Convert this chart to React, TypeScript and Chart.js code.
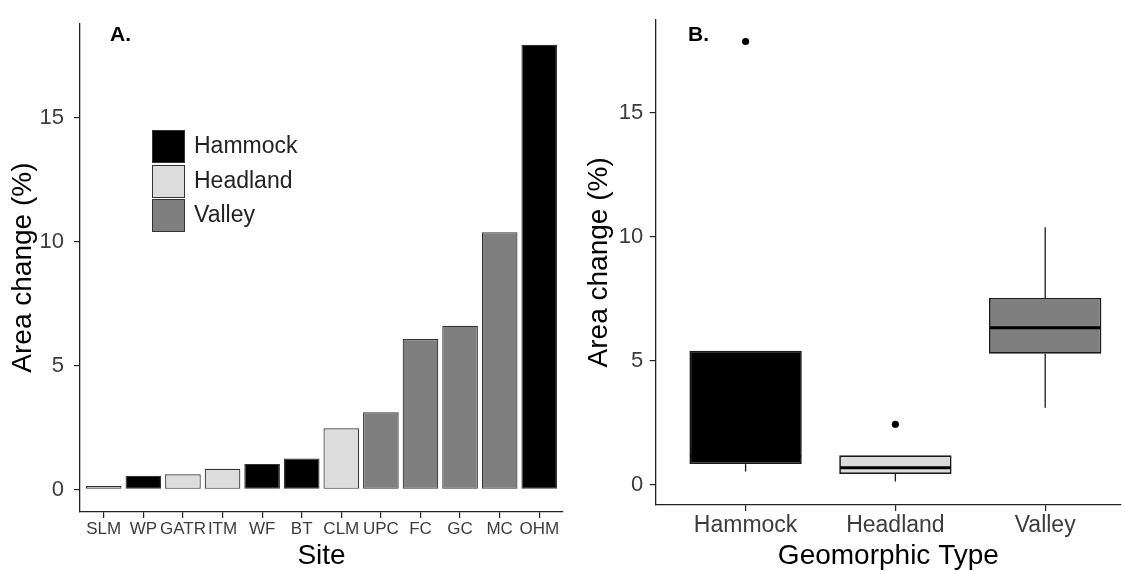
import React, { useEffect, useRef } from "react";
import { Chart, registerables } from "chart.js";

Chart.register(...registerables);

// ---------- Data ----------
const sites = ["SLM", "WP", "GATR", "ITM", "WF", "BT", "CLM", "UPC", "FC", "GC", "MC", "OHM"];
const siteTypes = ["Headland", "Hammock", "Headland", "Headland", "Hammock", "Hammock", "Headland", "Valley", "Valley", "Valley", "Valley", "Hammock"];
const areaChange = [0.14, 0.55, 0.61, 0.83, 1.03, 1.25, 2.47, 3.11, 6.07, 6.6, 10.38, 17.94];
const yTicks = [0, 5, 10, 15];

const geoTypes = ["Hammock", "Headland", "Valley"];
const boxLow = [0.52, 0.12, 3.1];
const boxQ1 = [0.82, 0.42, 5.28];
const boxMedian = [1.15, 0.67, 6.32];
const boxQ3 = [5.4, 1.18, 7.53];
const boxHigh = [1.26, 0.83, 10.38];
const outlierGroup = ["Hammock", "Headland"];
const outlierValue = [17.88, 2.43];

const typeColors: Record<string, string> = {
  Hammock: "#000000",
  Headland: "#DCDCDC",
  Valley: "#7F7F7F",
};

const FONT = "'Liberation Sans', Arial, Helvetica, sans-serif";
const AXIS_COLOR = "#222222";
const TICK_TEXT = "#3C3C3C";

function axisCommon() {
  return {
    grid: {
      display: true,
      drawOnChartArea: false,
      drawTicks: true,
      tickLength: 6,
      color: AXIS_COLOR,
      lineWidth: 1.2,
      offset: false,
    },
    border: { display: true, color: AXIS_COLOR, width: 1.3 },
  };
}

const boxPlugin = {
  id: "boxWhiskers",
  beforeDatasetsDraw(chart: any) {
    const { ctx } = chart;
    const x = chart.scales.x;
    const y = chart.scales.y;
    ctx.save();
    ctx.strokeStyle = "#1a1a1a";
    ctx.lineWidth = 1.3;
    geoTypes.forEach((_g, i) => {
      const px = x.getPixelForValue(i + 1);
      if (boxHigh[i] > boxQ3[i]) {
        ctx.beginPath();
        ctx.moveTo(px, y.getPixelForValue(boxQ3[i]));
        ctx.lineTo(px, y.getPixelForValue(boxHigh[i]));
        ctx.stroke();
      }
      if (boxLow[i] < boxQ1[i]) {
        ctx.beginPath();
        ctx.moveTo(px, y.getPixelForValue(boxQ1[i]));
        ctx.lineTo(px, y.getPixelForValue(boxLow[i]));
        ctx.stroke();
      }
    });
    ctx.restore();
  },
  afterDatasetsDraw(chart: any) {
    const { ctx } = chart;
    const y = chart.scales.y;
    const meta = chart.getDatasetMeta(0);
    ctx.save();
    ctx.strokeStyle = "#000";
    ctx.lineWidth = 3;
    geoTypes.forEach((_g, i) => {
      const el = meta.data[i];
      if (!el) return;
      const half = el.width / 2;
      const py = y.getPixelForValue(boxMedian[i]);
      ctx.beginPath();
      ctx.moveTo(el.x - half + 1, py);
      ctx.lineTo(el.x + half - 1, py);
      ctx.stroke();
    });
    ctx.restore();
  },
};

export default function App() {
  const refA = useRef<HTMLCanvasElement | null>(null);
  const refB = useRef<HTMLCanvasElement | null>(null);

  useEffect(() => {
    const chartA = new Chart(refA.current as HTMLCanvasElement, {
      type: "bar",
      data: {
        datasets: [
          {
            data: sites.map((_s, i) => ({ x: i, y: areaChange[i] })) as any,
            backgroundColor: siteTypes.map((t) => typeColors[t]),
            borderColor: "#333333",
            borderWidth: 1.2,
            borderSkipped: false,
            barPercentage: 0.9,
            categoryPercentage: 1,
          },
        ],
      },
      options: {
        responsive: false,
        animation: false,
        devicePixelRatio: 1,
        events: [],
        layout: { padding: { top: 15, right: 7, left: 0, bottom: 0 } },
        plugins: { legend: { display: false }, tooltip: { enabled: false } },
        scales: {
          x: {
            type: "linear",
            min: -0.6,
            max: 11.6,
            offset: false,
            ...axisCommon(),
            afterBuildTicks: (s: any) => {
              s.ticks = sites.map((_x, i) => ({ value: i }));
            },
            afterFit: (s: any) => {
              s.height = 59;
            },
            ticks: {
              autoSkip: false,
              maxRotation: 0,
              minRotation: 0,
              padding: 1,
              color: TICK_TEXT,
              font: { family: FONT, size: 17 },
              callback: (v: any) => sites[Math.round(Number(v))] ?? "",
            },
            title: {
              display: true,
              text: "Site",
              color: "#000",
              font: { family: FONT, size: 28 },
              padding: { top: 0, bottom: -2 },
            },
          },
          y: {
            type: "linear",
            min: -0.91,
            max: 18.81,
            ...axisCommon(),
            afterBuildTicks: (s: any) => {
              s.ticks = yTicks.map((v) => ({ value: v }));
            },
            afterFit: (s: any) => {
              s.width = 80;
            },
            ticks: {
              padding: 10,
              color: TICK_TEXT,
              font: { family: FONT, size: 22 },
            },
            title: {
              display: true,
              text: "Area change (%)",
              color: "#000",
              font: { family: FONT, size: 28 },
              padding: { top: 6.5, bottom: 0 },
            },
          },
        },
      } as any,
    });

    const chartB = new Chart(refB.current as HTMLCanvasElement, {
      type: "bar",
      data: {
        datasets: [
          {
            type: "bar",
            data: geoTypes.map((_g, i) => ({ x: i + 1, y: [boxQ1[i], boxQ3[i]] })) as any,
            backgroundColor: geoTypes.map((g) => typeColors[g]),
            borderColor: "#1a1a1a",
            borderWidth: 1.7,
            borderSkipped: false,
            barPercentage: 0.75,
            categoryPercentage: 1,
          } as any,
          {
            type: "scatter",
            data: outlierGroup.map((g, i) => ({ x: geoTypes.indexOf(g) + 1, y: outlierValue[i] })),
            pointRadius: 3.6,
            pointBackgroundColor: "#000",
            pointBorderWidth: 0,
            pointBorderColor: "#000",
          } as any,
        ],
      },
      options: {
        responsive: false,
        animation: false,
        devicePixelRatio: 1,
        events: [],
        layout: { padding: { top: 15, right: 0, left: 0, bottom: 0 } },
        plugins: { legend: { display: false }, tooltip: { enabled: false } },
        scales: {
          x: {
            type: "linear",
            min: 0.4,
            max: 3.506,
            offset: false,
            ...axisCommon(),
            afterBuildTicks: (s: any) => {
              s.ticks = geoTypes.map((_g, i) => ({ value: i + 1 }));
            },
            afterFit: (s: any) => {
              s.height = 66;
            },
            ticks: {
              autoSkip: false,
              maxRotation: 0,
              minRotation: 0,
              padding: 1,
              color: TICK_TEXT,
              font: { family: FONT, size: 23 },
              callback: (v: any) => geoTypes[Math.round(Number(v)) - 1] ?? "",
            },
            title: {
              display: true,
              text: "Geomorphic Type",
              color: "#000",
              font: { family: FONT, size: 28 },
              padding: { top: 0, bottom: -2 },
            },
          },
          y: {
            type: "linear",
            min: -0.83,
            max: 18.76,
            ...axisCommon(),
            afterBuildTicks: (s: any) => {
              s.ticks = yTicks.map((v) => ({ value: v }));
            },
            afterFit: (s: any) => {
              s.width = 85.7;
            },
            ticks: {
              padding: 6.5,
              color: TICK_TEXT,
              font: { family: FONT, size: 22 },
            },
            title: {
              display: true,
              text: "Area change (%)",
              color: "#000",
              font: { family: FONT, size: 28 },
              padding: { top: 12, bottom: 0 },
            },
          },
        },
      } as any,
      plugins: [boxPlugin],
    });

    return () => {
      chartA.destroy();
      chartB.destroy();
    };
  }, []);

  const legendTypes = ["Hammock", "Headland", "Valley"];

  return (
    <div
      style={{
        position: "fixed",
        left: 0,
        top: 0,
        width: 1125,
        height: 571,
        background: "#ffffff",
        overflow: "hidden",
      }}
    >
      <canvas
        ref={refA}
        width={570}
        height={571}
        style={{ position: "absolute", left: 0, top: 0, width: 570, height: 571 }}
      />
      <canvas
        ref={refB}
        width={555}
        height={571}
        style={{ position: "absolute", left: 570, top: 0, width: 555, height: 571 }}
      />
      <div
        style={{
          position: "absolute",
          left: 110,
          top: 23,
          font: `bold 21px ${FONT}`,
          lineHeight: "21px",
          color: "#000",
        }}
      >
        A.
      </div>
      <div
        style={{
          position: "absolute",
          left: 688,
          top: 23,
          font: `bold 21px ${FONT}`,
          lineHeight: "21px",
          color: "#000",
        }}
      >
        B.
      </div>
      {legendTypes.map((t, i) => (
        <React.Fragment key={t}>
          <div
            style={{
              position: "absolute",
              left: 152,
              top: 130 + i * 34.5,
              width: 33,
              height: 33,
              boxSizing: "border-box",
              border: "1.5px solid #333",
              background: typeColors[t],
            }}
          />
          <div
            style={{
              position: "absolute",
              left: 194,
              top: 132 + i * 34.5,
              height: 33,
              lineHeight: "33px",
              font: `23px ${FONT}`,
              color: "#222",
              whiteSpace: "nowrap",
            }}
          >
            {t}
          </div>
        </React.Fragment>
      ))}
    </div>
  );
}
